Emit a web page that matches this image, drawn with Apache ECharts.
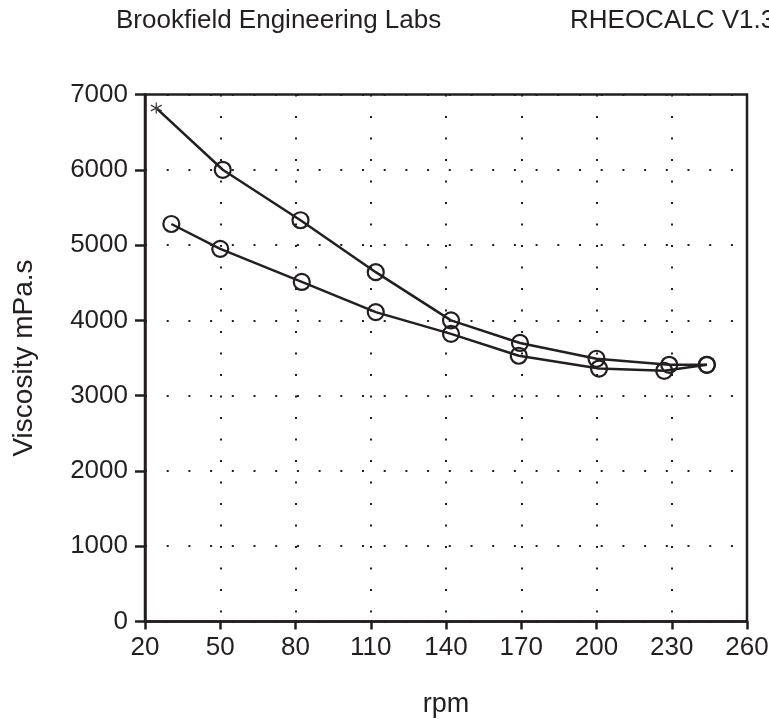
<!DOCTYPE html>
<html lang="en">
<head>
    <meta charset="UTF-8">
    <title>Brookfield viscosity vs rpm</title>
    <script src="https://cdn.jsdelivr.net/npm/echarts@6/dist/echarts.min.js"></script>
    <style>
        * {padding: 0; margin: 0;}
        body {background: #fff;}
        #main {width: 769px; height: 719px;}
    </style>
</head>
<body>
    <div id="main"></div>

    <script>
        // ramp up: rpm increasing
        const upRpm = [30.5, 50, 82.5, 112, 142, 169, 201, 227, 244];
        const upVisc = [5280, 4950, 4510, 4110, 3820, 3530, 3360, 3330, 3410];
        // ramp down: rpm decreasing, last reading marked with *
        const downRpm = [244, 229, 200, 169.5, 142, 112, 82, 51, 24.5];
        const downVisc = [3410, 3410, 3490, 3700, 4000, 4640, 5330, 6000, 6820];

        const xTicks = [20, 50, 80, 110, 140, 170, 200, 230, 260];
        const yTicks = [0, 1000, 2000, 3000, 4000, 5000, 6000, 7000];

        const ink = '#231f20';
        const font = '"Liberation Sans", Arial, sans-serif';

        const chart = echarts.init(document.getElementById('main'));

        function pairs(xs, ys) {
            return xs.map(function(x, i) { return [x, ys[i]]; });
        }

        const circle = {
            color: 'rgba(0,0,0,0)',
            borderColor: ink,
            borderWidth: 2.2
        };

        let downData = pairs(downRpm, downVisc);
        let last = downData.length - 1;
        downData[last] = {
            value: downData[last],
            symbol: 'path://M0,-5L0,5M-4.5,-2.6L4.5,2.6M-4.5,2.6L4.5,-2.6',
            symbolSize: 11,
            itemStyle: {color: 'rgba(0,0,0,0)', borderColor: '#444', borderWidth: 1.3}
        };

        chart.setOption({
            animation: false,
            title: [{
                text: 'Brookfield Engineering Labs',
                left: 111,
                top: 3,
                textStyle: {fontFamily: font, fontSize: 26, fontWeight: 'normal', color: ink}
            }, {
                text: 'RHEOCALC V1.3',
                left: 565,
                top: 3,
                textStyle: {fontFamily: font, fontSize: 26, fontWeight: 'normal', color: ink}
            }],
            grid: {
                left: 145,
                right: 22,
                top: 94.5,
                bottom: 97.5,
                containLabel: false,
                outerBoundsMode: 'none',
                show: true,
                borderColor: ink,
                borderWidth: 2.5
            },
            xAxis: {
                type: 'value',
                min: xTicks[0],
                max: xTicks[xTicks.length - 1],
                interval: 30,
                name: 'rpm',
                nameLocation: 'middle',
                nameGap: 70,
                nameTextStyle: {fontFamily: font, fontSize: 27, color: ink},
                axisLine: {show: true, lineStyle: {color: ink, width: 2.5}},
                axisTick: {show: true, length: 8, lineStyle: {color: ink, width: 2.5}},
                axisLabel: {
                    fontFamily: font, fontSize: 26, color: ink, margin: 13,
                    formatter: function(v) { return String(v); }
                },
                splitLine: {
                    show: true,
                    lineStyle: {color: ink, width: 2, type: [2, 19.5], dashOffset: 0}
                }
            },
            yAxis: {
                type: 'value',
                min: yTicks[0],
                max: yTicks[yTicks.length - 1],
                interval: 1000,
                name: 'Viscosity mPa.s',
                nameLocation: 'middle',
                nameGap: 107,
                nameTextStyle: {fontFamily: font, fontSize: 28, color: ink},
                axisLine: {show: true, lineStyle: {color: ink, width: 2.5}},
                axisTick: {show: true, length: 10, lineStyle: {color: ink, width: 2.5}},
                axisLabel: {
                    fontFamily: font, fontSize: 26, color: ink, margin: 17,
                    formatter: function(v) { return String(v); }
                },
                splitLine: {
                    show: true,
                    lineStyle: {color: ink, width: 2, type: [2, 19.7], dashOffset: 0}
                }
            },
            series: [{
                name: 'up',
                type: 'line',
                data: pairs(upRpm, upVisc),
                symbol: 'circle',
                symbolSize: 16,
                itemStyle: circle,
                lineStyle: {color: ink, width: 2.5},
                z: 3
            }, {
                name: 'down',
                type: 'line',
                data: downData,
                symbol: 'circle',
                symbolSize: 16,
                itemStyle: circle,
                lineStyle: {color: ink, width: 2.5},
                z: 3
            }]
        });
    </script>
</body>
</html>
